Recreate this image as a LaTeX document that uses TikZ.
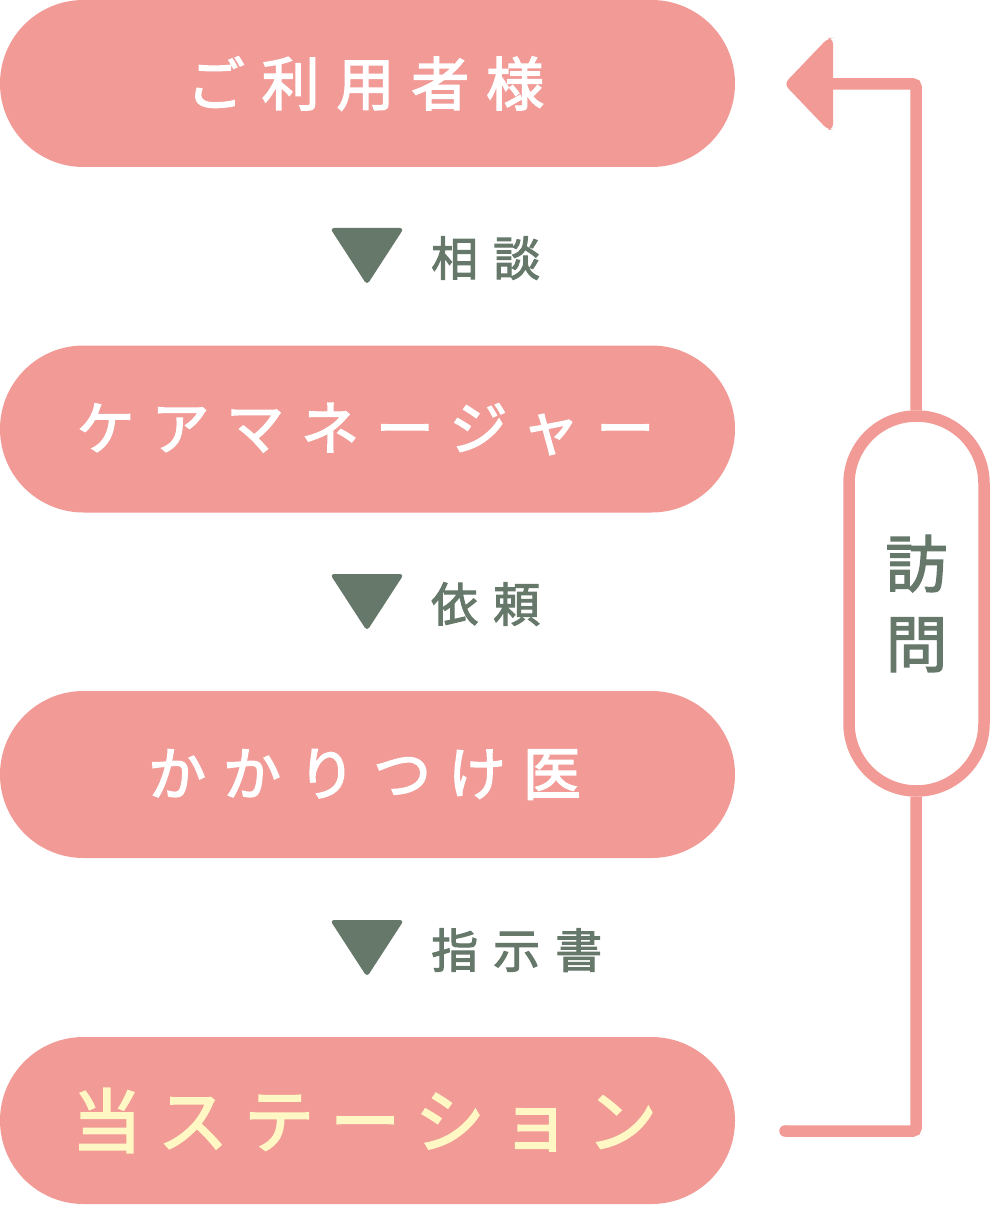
\documentclass[tikz,border=0pt]{standalone}
\usepackage{fontspec}
\newfontfamily\jpbox[LetterSpace=29,FakeBold=2.5]{Noto Sans CJK JP}
\newfontfamily\jpboxb[LetterSpace=23,FakeBold=2.5]{Noto Sans CJK JP}
\newfontfamily\jplab[LetterSpace=32,FakeBold=2.2]{Noto Sans CJK JP}
\newfontfamily\jpvis[FakeBold=2.2]{Noto Sans CJK JP}
\definecolor{pinkc}{HTML}{F19A96}
\definecolor{greenc}{HTML}{66786A}
\definecolor{yellowc}{HTML}{FFF8C4}
\tikzset{
  box/.style={shape=rectangle, fill=pinkc, rounded corners=83.5pt, minimum width=735pt, minimum height=167pt, inner sep=0pt, text=white, font=\jpbox\fontsize{58}{60}\selectfont},
  lab/.style={anchor=west, inner sep=0pt, text=greenc, font=\jplab\fontsize{47}{50}\selectfont},
  tri/.style={fill=greenc, rounded corners=4pt},
  conn/.style={draw=pinkc, line width=11.5pt, rounded corners=3pt},
}
\begin{document}
\begin{tikzpicture}[x=1pt,y=-1pt]
\useasboundingbox (0,0) rectangle (990,1206);
\node[box] (b1) at (367.5,83.5) {\hspace{-4pt}ご利用者様};
\node[box] (b2) at (367.5,429) {\hspace{-4pt}ケアマネージャー};
\node[box] (b3) at (367.5,774.5) {\hspace{-6pt}かかりつけ医};
\node[box, text=yellowc, font=\jpboxb\fontsize{70}{72}\selectfont] (b4) at (367.5,1120.5) {\hspace{-6pt}当ステーション};
% triangles and labels
\foreach \y in {228,574,920}{
  \fill[tri] (330,\y) -- (404,\y) -- (367,\y+57) -- cycle;
}
\node[lab] (l1) at (431,258) {相談};
\node[lab] (l2) at (431,604) {依頼};
\node[lab] (l3) at (431,950) {指示書};
% visit pill
\node[draw=pinkc, fill=white, line width=11.5pt, rounded corners=67.5pt, minimum width=135pt, minimum height=375pt, inner sep=0pt,
      text=greenc, align=center, font=\jpvis\fontsize{62}{80}\selectfont] (visit) at (916.5,603.5) {訪\\問};
% connectors
\coordinate (start) at (785,1131);
\coordinate (end) at (830,84);
\draw[conn] ([xshift=-0.5pt]visit.south) -- ([xshift=-0.5pt]visit.south |- start) -- (start);
\fill[pinkc] (start) circle (5.75pt);
\draw[conn] ([xshift=-0.5pt]visit.north) -- ([xshift=-0.5pt]visit.north |- end) -- (end);
\fill[pinkc, rounded corners=6pt] (784,84) -- (828,38) -- (833,38) -- (833,130) -- (828,130) -- cycle;
\end{tikzpicture}
\end{document}
